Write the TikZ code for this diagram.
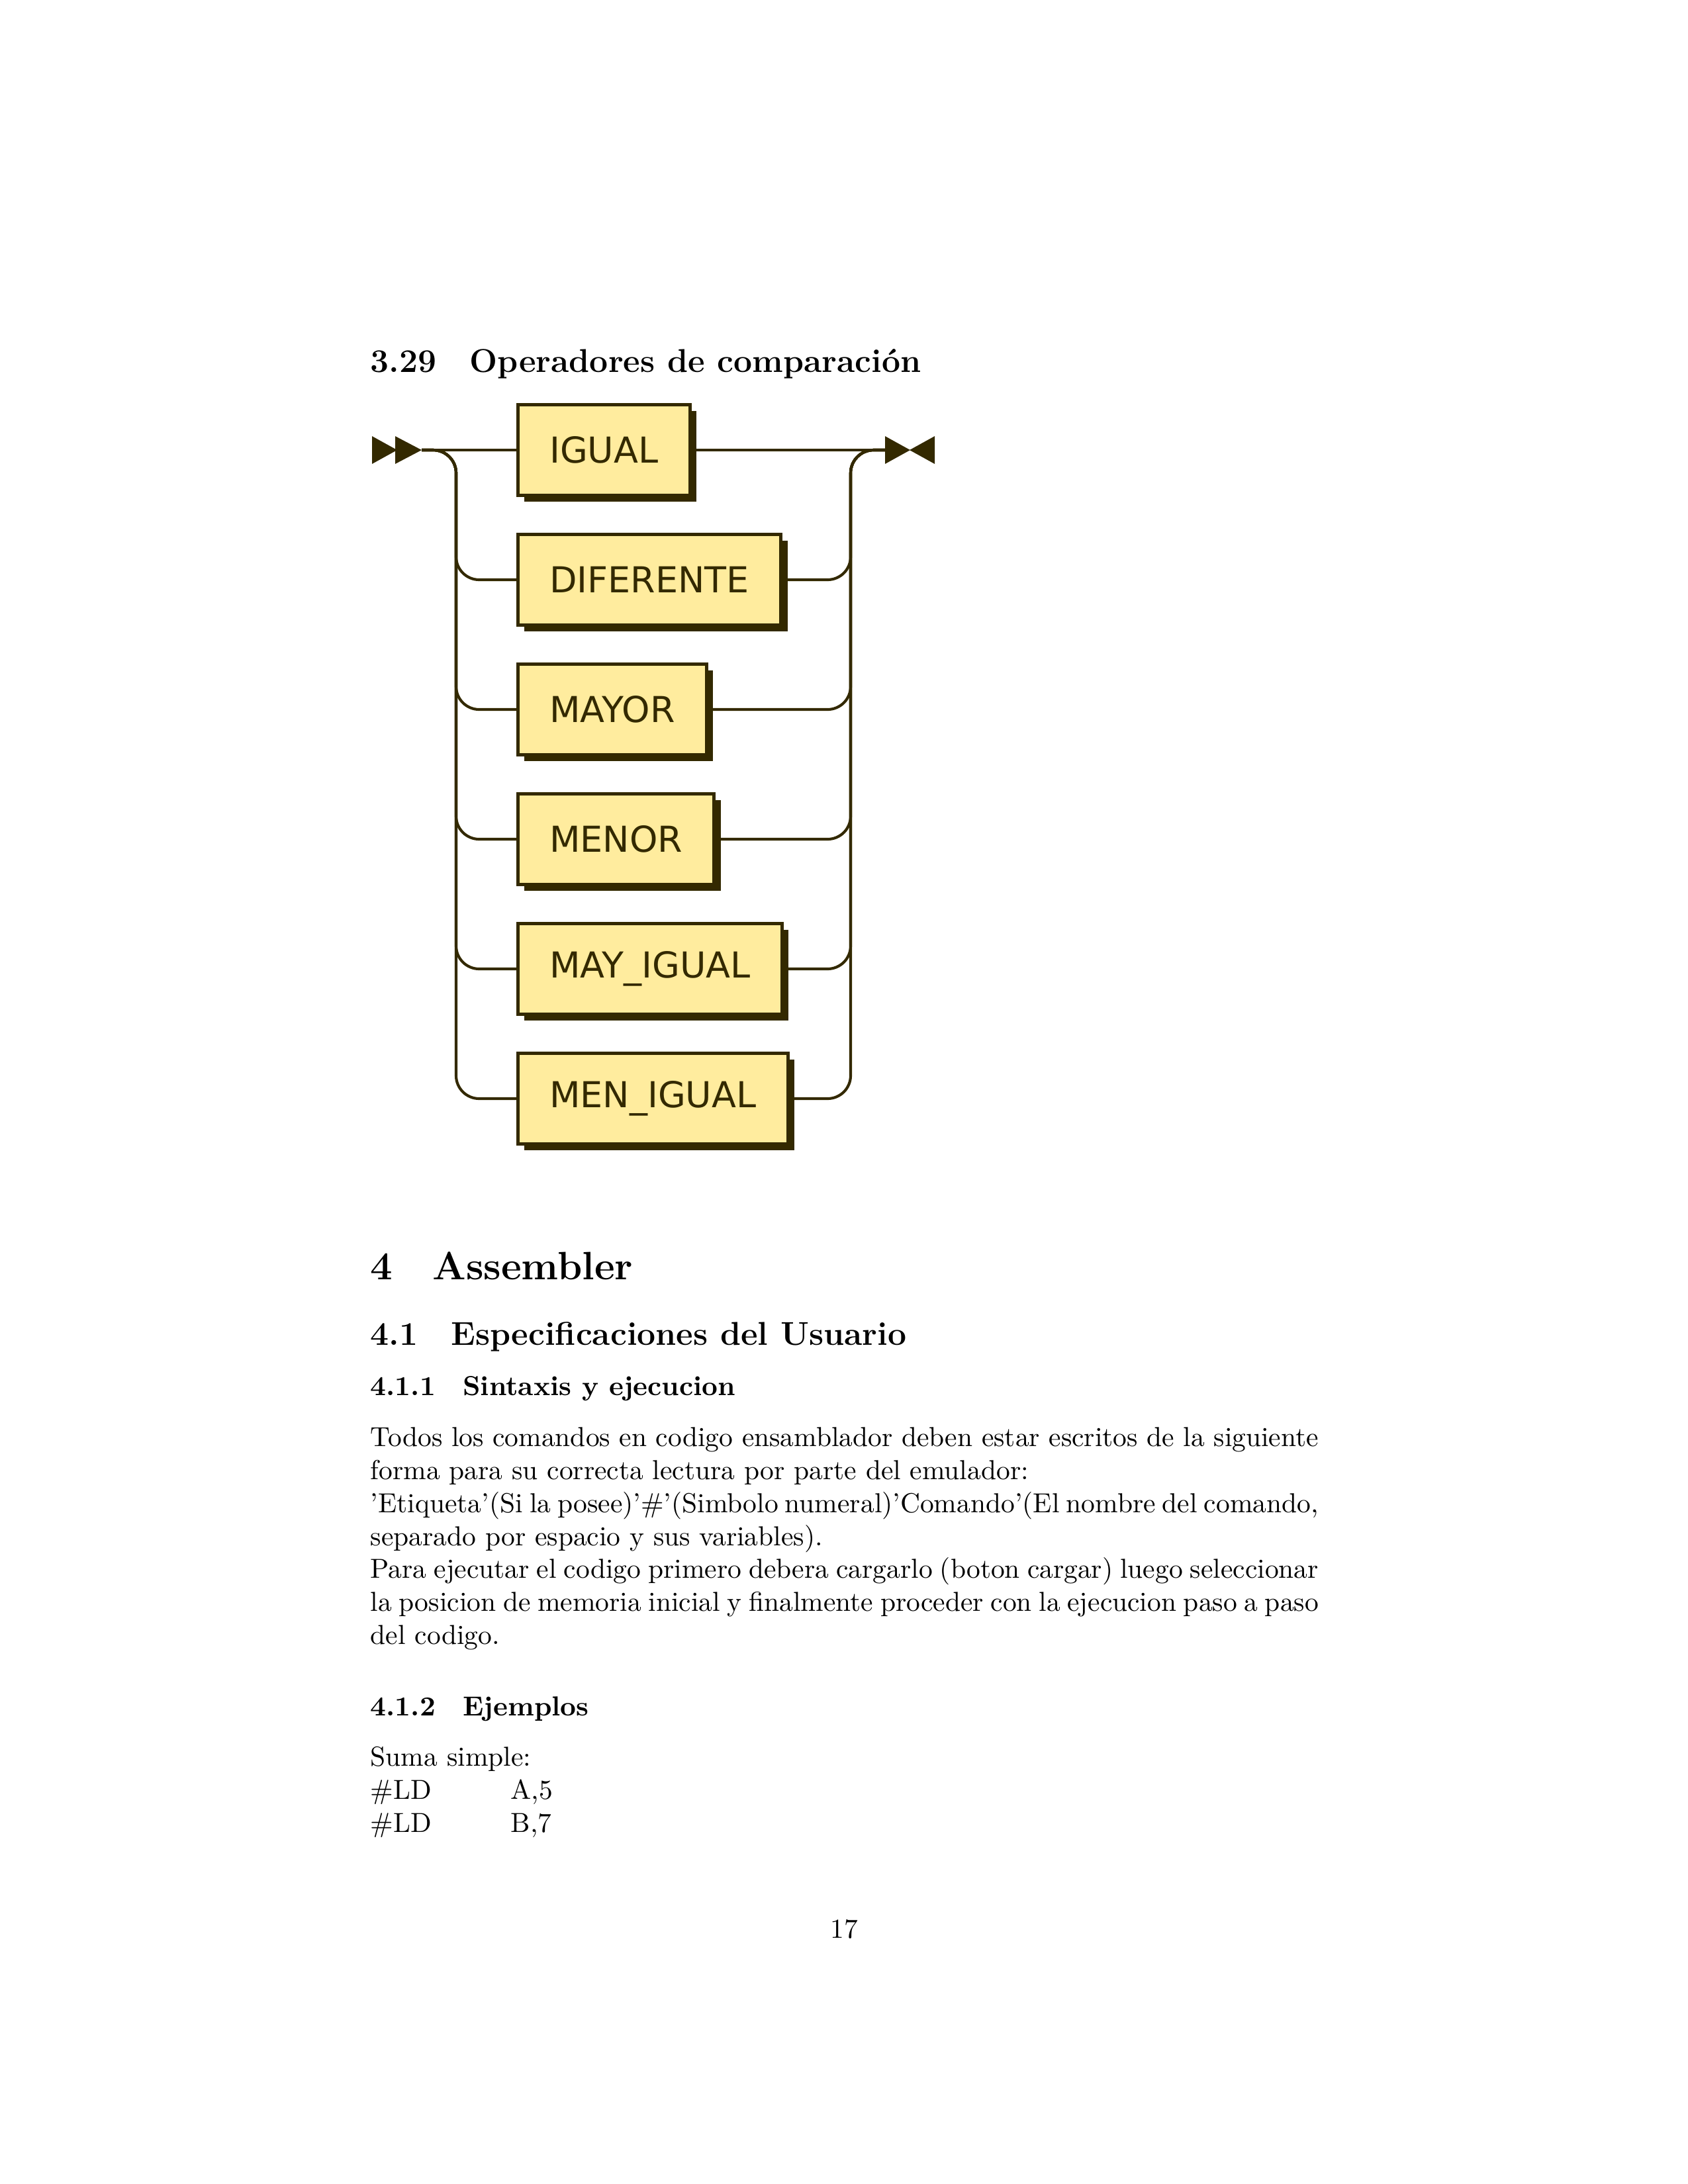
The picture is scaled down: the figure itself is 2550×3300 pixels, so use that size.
\documentclass[tikz,border=0pt]{standalone}
\usepackage{fontspec}
\newfontfamily\rrfont{DejaVu Sans}
\usetikzlibrary{shadows}
\definecolor{rrline}{HTML}{332900}
\definecolor{rrfill}{HTML}{FFEC9E}
\newcommand{\justo}[1]{\makebox[345pt][s]{#1}}
\tikzset{
  rrbox/.style={draw=rrline, line width=1.2pt, fill=rrfill, inner xsep=11.5pt,
    minimum height=33pt, anchor=west, text=rrline,
    font=\rrfont\fontsize{13pt}{15pt}\selectfont,
    drop shadow={shadow xshift=2.4pt, shadow yshift=-2.4pt, opacity=1, fill=rrline}},
  rail/.style={draw=rrline, line width=1pt, rounded corners=8.4pt},
  linea/.style={anchor=base west, inner sep=0pt}
}

\begin{document}
\begin{tikzpicture}[x=0.2409pt, y=-0.2409pt]
	\useasboundingbox (0,0) rectangle (2550,3300);
	% diagrama
	\node[linea, font=\large\bfseries] (titulo) at (559,562) {3.29\quad Operadores de comparación};
	\node[rrbox] (igual) at (780,680) {IGUAL};%0
	\node[rrbox] (diferente) at (780,876) {DIFERENTE};%1
	\node[rrbox] (mayor) at (780,1072) {MAYOR};%2
	\node[rrbox] (menor) at (780,1268) {MENOR};%3
	\node[rrbox] (mayigual) at (780,1464) {MAY\_IGUAL};%4
	\node[rrbox] (menigual) at (780,1660) {MEN\_IGUAL};%5
	\coordinate (inicio) at (637,680);
	\coordinate (fin) at (1337,680);
	\coordinate (izq) at (689,680);
	\coordinate (der) at (1285,680);
	\fill[rrline] (562,659) -- (600,680) -- (562,701) -- cycle;
	\fill[rrline] (597,659) -- (637,680) -- (597,701) -- cycle;
	\fill[rrline] (1337,659) -- (1375,680) -- (1337,701) -- cycle;
	\fill[rrline] (1412,659) -- (1374,680) -- (1412,701) -- cycle;
	\draw[rail] (inicio) -- (igual.west);
	\draw[rail] (igual.east) -- (fin);
	\draw[rail] (inicio) -- (izq) -- (izq |- diferente.west) -- (diferente.west);
	\draw[rail] (inicio) -- (izq) -- (izq |- mayor.west) -- (mayor.west);
	\draw[rail] (inicio) -- (izq) -- (izq |- menor.west) -- (menor.west);
	\draw[rail] (inicio) -- (izq) -- (izq |- mayigual.west) -- (mayigual.west);
	\draw[rail] (inicio) -- (izq) -- (izq |- menigual.west) -- (menigual.west);
	\draw[rail] (diferente.east) -- (der |- diferente.east) -- (der) -- (fin);
	\draw[rail] (mayor.east) -- (der |- mayor.east) -- (der) -- (fin);
	\draw[rail] (menor.east) -- (der |- menor.east) -- (der) -- (fin);
	\draw[rail] (mayigual.east) -- (der |- mayigual.east) -- (der) -- (fin);
	\draw[rail] (menigual.east) -- (der |- menigual.east) -- (der) -- (fin);
	% texto
	\node[linea, font=\Large\bfseries] (sec) at (559,1933) {4\quad Assembler};
	\node[linea, font=\large\bfseries] (subsec) at (559,2032) {4.1\quad Especificaciones del Usuario};
	\node[linea, font=\bfseries] (subsub) at (559,2108) {4.1.1\quad Sintaxis y ejecucion};
	\node[linea] (l1) at (559,2185) {\justo{Todos los comandos en codigo ensamblador deben estar escritos de la siguiente}};
	\node[linea] (l2) at (559,2235) {forma para su correcta lectura por parte del emulador:};
	\node[linea] (l3) at (559,2285) {\justo{'Etiqueta'(Si la posee)'\#'(Simbolo numeral)'Comando'(El nombre del comando,}};
	\node[linea] (l4) at (559,2335) {separado por espacio y sus variables).};
	\node[linea] (l5) at (559,2384) {\justo{Para ejecutar el codigo primero debera cargarlo (boton cargar) luego seleccionar}};
	\node[linea] (l6) at (559,2434) {\justo{la posicion de memoria inicial y finalmente proceder con la ejecucion paso a paso}};
	\node[linea] (l7) at (559,2484) {del codigo.};
	\node[linea, font=\bfseries] (ejem) at (559,2592) {4.1.2\quad Ejemplos};
	\node[linea] (suma) at (559,2668) {Suma simple:};
	\node[linea] (ld1) at (559,2718) {\#LD};
	\node[linea] (arg1) at (771,2718) {A,5};
	\node[linea] (ld2) at (559,2768) {\#LD};
	\node[linea] (arg2) at (771,2768) {B,7};
	\node[anchor=base, inner sep=0pt] (pagina) at (1275,2928) {17};
\end{tikzpicture}
\end{document}
